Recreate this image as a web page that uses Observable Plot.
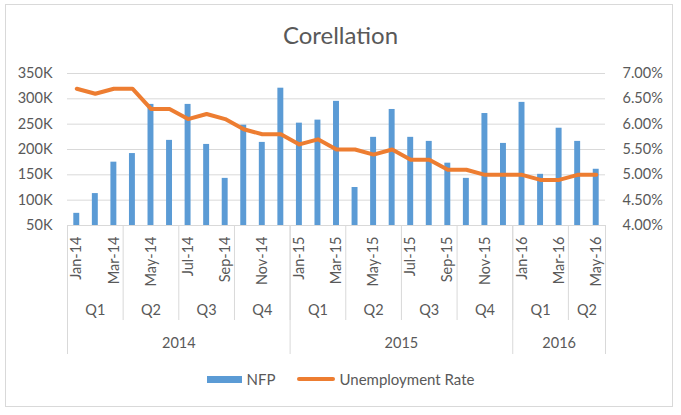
<!DOCTYPE html>
<html>
<head>
<meta charset="utf-8">
<script src="https://cdn.jsdelivr.net/npm/d3@7"></script>
<script src="https://cdn.jsdelivr.net/npm/@observablehq/plot@0.6"></script>
<style>
  body { margin: 0; background: #fff; }
  #wrap { position: relative; width: 681px; height: 415px; font-family: Lato, sans-serif; color: #595959; overflow: hidden; background: #fff; }
  #frame { position: absolute; left: 5px; top: 4px; width: 668px; height: 403px; border: 1px solid #d9d9d9; box-sizing: border-box; }
  #title { position: absolute; left: 0; top: 20px; width: 681px; height: 30px; line-height: 30px; text-align: center; font-size: 24px; color: #595959; }
  #chart { position: absolute; left: 0; top: 56px; }
  #legend { position: absolute; left: 0; top: 369px; width: 681px; height: 20px; display: flex; justify-content: center; align-items: center; font-size: 15px; color: #595959; }
  .sw-bar { width: 35px; height: 7px; background: #5B9BD5; margin-right: 5px; }
  .sw-line { width: 38px; height: 4px; background: #ED7D31; border-radius: 2px; margin-right: 4px; margin-left: 22px; }
</style>
</head>
<body>
<div id="wrap">
  <div id="frame"></div>
  <div id="title">Corellation</div>
  <div id="chart"></div>
  <div id="legend"><div class="sw-bar"></div><span>NFP</span><div class="sw-line"></div><span>Unemployment Rate</span></div>
</div>
<script>
// ---- data ----
const months = ["Jan-14","Feb-14","Mar-14","Apr-14","May-14","Jun-14","Jul-14","Aug-14","Sep-14","Oct-14","Nov-14","Dec-14",
                "Jan-15","Feb-15","Mar-15","Apr-15","May-15","Jun-15","Jul-15","Aug-15","Sep-15","Oct-15","Nov-15","Dec-15",
                "Jan-16","Feb-16","Mar-16","Apr-16","May-16"];
const nfp = [74,113,175,192,289,218,289,210,143,248,214,321,
             252,258,295,125,224,279,224,216,173,143,271,212,
             293,151,242,216,161];
const unemploymentRate = [6.7,6.6,6.7,6.7,6.3,6.3,6.1,6.2,6.1,5.9,5.8,5.8,
                          5.6,5.7,5.5,5.5,5.4,5.5,5.3,5.3,5.1,5.1,5.0,5.0,
                          5.0,4.9,4.9,5.0,5.0];
const nfpTicks = [50,100,150,200,250,300,350];
const rateTicks = [4.0,4.5,5.0,5.5,6.0,6.5,7.0];
const monthNames = ["Jan","Feb","Mar","Apr","May","Jun","Jul","Aug","Sep","Oct","Nov","Dec"];

// ---- derived tables ----
const data = months.map((m, i) => ({i, month: m, nfp: nfp[i], rate: unemploymentRate[i]}));
const parsed = months.map((m, i) => {
  const [mn, yy] = m.split("-");
  const mi = monthNames.indexOf(mn);
  return {i, year: "20" + yy, quarter: "Q" + (Math.floor(mi / 3) + 1)};
});
function groupRuns(keyFn, labelFn) {
  const out = [];
  parsed.forEach(p => {
    const k = keyFn(p);
    const last = out[out.length - 1];
    if (last && last.key === k) last.end = p.i;
    else out.push({key: k, label: labelFn(p), start: p.i, end: p.i});
  });
  return out;
}
const quarters = groupRuns(p => p.year + p.quarter, p => p.quarter);
const years = groupRuns(p => p.year, p => p.year);
const quarterBounds = [-0.5, ...quarters.map(q => q.end + 0.5)];
const yearBounds = [-0.5, ...years.map(y => y.end + 0.5)];
const monthLabelIdx = data.filter(d => d.i % 2 === 0).map(d => d.i);

// secondary axis mapped onto primary scale
const yMin = nfpTicks[0], yMax = nfpTicks[nfpTicks.length - 1];
const rateToY = d3.scaleLinear().domain([rateTicks[0], rateTicks[rateTicks.length - 1]]).range([yMin, yMax]);

const barHalf = 0.16;
const txt = "#595959";
const grid = "#d9d9d9";

const chart = Plot.plot({
  width: 681,
  height: 304,
  marginTop: 17,
  marginBottom: 135,
  marginLeft: 67,
  marginRight: 76,
  style: {fontFamily: "Lato, sans-serif", fontSize: "14.5px", color: txt, background: "transparent", overflow: "visible"},
  x: {domain: [-0.5, months.length - 0.5], axis: null},
  y: {domain: [yMin, yMax], axis: null},
  marks: [
    Plot.ruleY(nfpTicks, {stroke: grid, strokeWidth: 1}),
    Plot.rectY(data, {x1: d => d.i - barHalf, x2: d => d.i + barHalf, y1: yMin, y2: "nfp", fill: "#5B9BD5"}),
    Plot.line(data, {x: "i", y: d => rateToY(d.rate), stroke: "#ED7D31", strokeWidth: 4, strokeLinejoin: "round", strokeLinecap: "round"}),
    Plot.text(nfpTicks, {y: d => d, frameAnchor: "left", lineAnchor: "middle", textAnchor: "end", dx: -15, text: d => d + "K", fill: txt}),
    Plot.text(rateTicks, {y: d => rateToY(d), frameAnchor: "right", lineAnchor: "middle", textAnchor: "start", dx: 17, text: d => d.toFixed(2) + "%", fill: txt}),
    Plot.text(monthLabelIdx, {x: d => d, frameAnchor: "bottom", lineAnchor: "middle", rotate: -90, textAnchor: "end", dy: 11, text: d => months[d], fill: txt}),
    Plot.ruleX(quarterBounds, {x: d => d, y1: yMin, y2: yMin, insetBottom: -95, stroke: grid}),
    Plot.ruleX(yearBounds, {x: d => d, y1: yMin, y2: yMin, insetBottom: -129, stroke: grid}),
    Plot.text(quarters, {x: d => (d.start + d.end) / 2, frameAnchor: "bottom", lineAnchor: "middle", dy: 85, text: "label", fill: txt}),
    Plot.text(years, {x: d => (d.start + d.end) / 2, frameAnchor: "bottom", lineAnchor: "middle", dy: 118, text: "label", fill: txt})
  ]
});
document.getElementById("chart").appendChild(chart);
</script>
</body>
</html>
